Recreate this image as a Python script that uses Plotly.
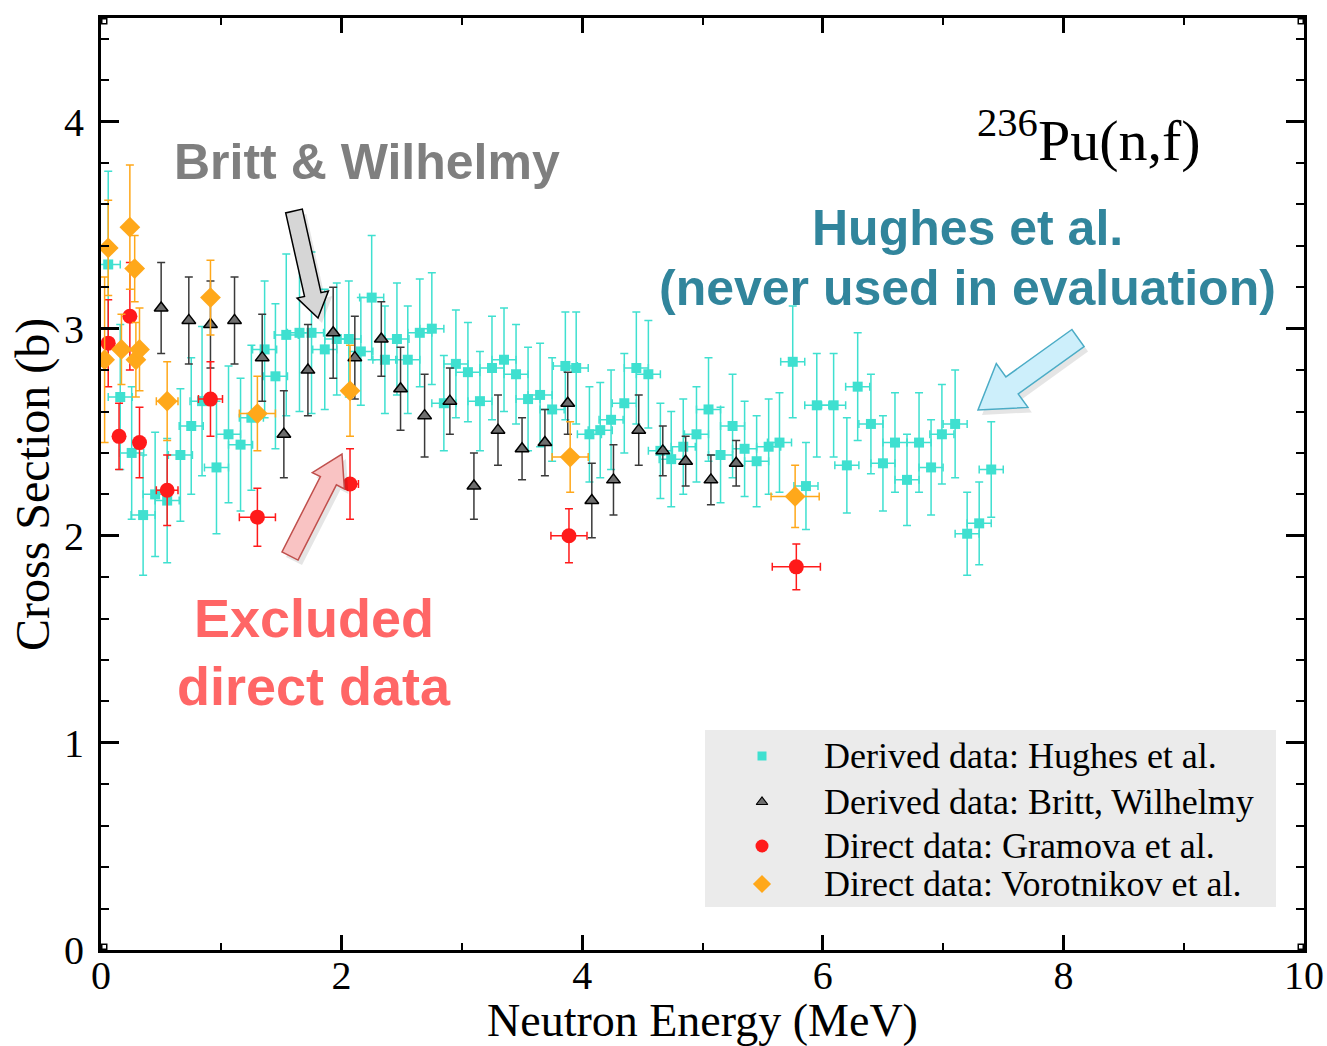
import math
import plotly.graph_objects as go

# ---------------- data ----------------
hughes_E = [0.06, 0.16, 0.255, 0.35, 0.45, 0.55, 0.66, 0.75, 0.84, 0.96, 1.06, 1.16, 1.25, 1.36,
            1.45, 1.54, 1.65, 1.75, 1.86, 1.96, 2.06, 2.16, 2.25, 2.36, 2.46, 2.55, 2.65, 2.75,
            2.85, 2.95, 3.05, 3.15, 3.25, 3.35, 3.45, 3.55, 3.65, 3.75, 3.86, 3.95, 4.06, 4.15,
            4.24, 4.35, 4.45, 4.55, 4.65, 4.74, 4.84, 4.95, 5.05, 5.15, 5.25, 5.35, 5.45, 5.55,
            5.64, 5.75, 5.86, 5.95, 6.09, 6.20, 6.29, 6.40, 6.50, 6.60, 6.70, 6.80, 6.90, 6.99,
            7.10, 7.20, 7.30, 7.40]
hughes_xs = [3.31, 2.67, 2.40, 2.10, 2.20, 2.17, 2.39, 2.53, 2.65, 2.33, 2.49, 2.44, 2.57, 2.90,
             2.77, 2.97, 2.98, 2.98, 2.90, 2.95, 2.95, 2.89, 3.15, 2.85, 2.95, 2.85, 2.98, 3.00,
             2.64, 2.83, 2.79, 2.65, 2.81, 2.85, 2.78, 2.66, 2.68, 2.61, 2.82, 2.81, 2.49, 2.51,
             2.56, 2.64, 2.81, 2.78, 2.41, 2.37, 2.43, 2.49, 2.61, 2.39, 2.53, 2.42, 2.36, 2.43,
             2.45, 2.84, 2.24, 2.63, 2.63, 2.34, 2.72, 2.54, 2.35, 2.45, 2.27, 2.45, 2.33, 2.49,
             2.54, 2.01, 2.06, 2.32]
hughes_err = [0.45, 0.35, 0.32, 0.29, 0.30, 0.30, 0.32, 0.33, 0.36, 0.32, 0.33, 0.32, 0.35, 0.33,
              0.35, 0.39, 0.38, 0.39, 0.29, 0.27, 0.28, 0.26, 0.30, 0.26, 0.27, 0.26, 0.26, 0.27,
              0.23, 0.26, 0.24, 0.24, 0.25, 0.25, 0.24, 0.25, 0.25, 0.25, 0.26, 0.27, 0.23, 0.23,
              0.24, 0.24, 0.27, 0.26, 0.23, 0.23, 0.23, 0.23, 0.25, 0.23, 0.25, 0.23, 0.22, 0.23,
              0.24, 0.27, 0.21, 0.25, 0.25, 0.23, 0.26, 0.24, 0.23, 0.24, 0.22, 0.24, 0.23, 0.24,
              0.26, 0.20, 0.20, 0.23]
hughes_dE = 0.1

britt_E = [0.50, 0.73, 0.91, 1.11, 1.34, 1.52, 1.72, 1.93, 2.11, 2.33, 2.49, 2.69, 2.90, 3.10,
           3.30, 3.50, 3.69, 3.88, 4.08, 4.26, 4.47, 4.67, 4.86, 5.07, 5.28]
britt_xs = [3.10, 3.04, 3.02, 3.04, 2.86, 2.49, 2.80, 2.98, 2.86, 2.95, 2.71, 2.58, 2.65, 2.24,
            2.51, 2.42, 2.45, 2.64, 2.17, 2.27, 2.51, 2.41, 2.36, 2.27, 2.35]
britt_err = [0.22, 0.21, 0.21, 0.21, 0.21, 0.21, 0.22, 0.22, 0.20, 0.18, 0.20, 0.20, 0.16, 0.16,
             0.17, 0.15, 0.16, 0.15, 0.18, 0.17, 0.17, 0.12, 0.12, 0.12, 0.11]

gramova_E = [0.06, 0.15, 0.24, 0.32, 0.55, 0.91, 1.30, 2.07, 3.89, 5.78]
gramova_xs = [2.93, 2.48, 3.06, 2.45, 2.22, 2.66, 2.09, 2.25, 2.00, 1.85]
gramova_err = [0.21, 0.16, 0.26, 0.17, 0.17, 0.18, 0.14, 0.17, 0.13, 0.11]
gramova_dE = [0.02, 0.02, 0.02, 0.02, 0.09, 0.10, 0.15, 0.07, 0.15, 0.20]

vorot_E = [0.03, 0.06, 0.17, 0.24, 0.28, 0.29, 0.32, 0.55, 0.91, 1.30, 2.07, 3.90, 5.77]
vorot_xs = [2.85, 3.39, 2.90, 3.49, 3.29, 2.85, 2.90, 2.65, 3.15, 2.59, 2.70, 2.38, 2.19]
vorot_err = [0.40, 0.23, 0.17, 0.30, 0.16, 0.18, 0.20, 0.19, 0.18, 0.18, 0.22, 0.17, 0.15]
vorot_dE = [0.02, 0.02, 0.02, 0.02, 0.02, 0.02, 0.02, 0.09, 0.02, 0.15, 0.02, 0.15, 0.20]

legend_labels = ["Derived data: Hughes et al.", "Derived data: Britt, Wilhelmy",
                 "Direct data: Gramova et al.", "Direct data: Vorotnikov et al."]

x_title = "Neutron Energy (MeV)"
y_title = "Cross Section (b)"

x_range = [0, 10]
y_range = [0, 4.5]

# ---------------- layout geometry (pixels) ----------------
W, H = 1327, 1046
L, R, T, B = 101, 1304, 18, 950

def px_to_paper(px, py):
    return (px - L) / (R - L), (B - py) / (B - T)

SERIF = "Liberation Serif, Times New Roman, serif"
SANS = "Liberation Sans, Arial, sans-serif"

CYAN = "#3fe0d0"
RED = "#ff1a1a"
ORANGE = "#ffa81a"

fig = go.Figure()

def err(vals, color, width=4):
    return dict(type="data", array=vals, visible=True, color=color, thickness=1.5, width=width)

fig.add_trace(go.Scatter(
    x=hughes_E, y=hughes_xs, mode="markers", name=legend_labels[0],
    marker=dict(symbol="square", size=10, color=CYAN, line=dict(width=0)),
    error_y=err(hughes_err, CYAN),
    error_x=dict(type="constant", value=hughes_dE, color=CYAN, thickness=1.5, width=4),
    showlegend=False))
fig.add_trace(go.Scatter(
    x=britt_E, y=britt_xs, mode="markers", name=legend_labels[1],
    marker=dict(symbol="triangle-up", size=12, color="#6e6e6e", line=dict(width=1.5, color="black")),
    error_y=err(britt_err, "#3a3a3a"),
    showlegend=False))
fig.add_trace(go.Scatter(
    x=gramova_E, y=gramova_xs, mode="markers", name=legend_labels[2],
    marker=dict(symbol="circle", size=15, color=RED, line=dict(width=0)),
    error_y=err(gramova_err, RED),
    error_x=err(gramova_dE, RED),
    showlegend=False))
fig.add_trace(go.Scatter(
    x=vorot_E, y=vorot_xs, mode="markers", name=legend_labels[3],
    marker=dict(symbol="diamond", size=16, color=ORANGE, line=dict(width=0)),
    error_y=err(vorot_err, ORANGE),
    error_x=err(vorot_dE, ORANGE),
    showlegend=False))

# ---------------- custom legend on pixel overlay axes ----------------
leg_y = [756, 802, 846, 884]
leg_sym = ["square", "triangle-up", "circle", "diamond"]
leg_col = [CYAN, "#6e6e6e", RED, ORANGE]
leg_size = [9, 10, 13, 14]
leg_line = [0, 1.2, 0, 0]
shapes = []
shapes.append(dict(type="rect", xref="x2", yref="y2", x0=705, x1=1276, y0=730, y1=907,
                   fillcolor="#ebebeb", line=dict(width=0), layer="below"))
for i in range(4):
    fig.add_trace(go.Scatter(x=[762], y=[leg_y[i]], xaxis="x2", yaxis="y2", mode="markers",
                             marker=dict(symbol=leg_sym[i], size=leg_size[i], color=leg_col[i],
                                         line=dict(width=leg_line[i], color="black")),
                             showlegend=False, hoverinfo="skip"))

annotations = []
for i in range(4):
    annotations.append(dict(xref="x2", yref="y2", x=822, y=leg_y[i], text=legend_labels[i],
                            showarrow=False, xanchor="left", yanchor="middle",
                            font=dict(family=SERIF, size=36, color="black")))

# ---------------- block arrows ----------------
def block_arrow(tail, tip, bw, hw, hl):
    dx, dy = tip[0] - tail[0], tip[1] - tail[1]
    ln = math.hypot(dx, dy)
    ux, uy = dx / ln, dy / ln
    nx, ny = -uy, ux
    bx, by = tip[0] - ux * hl, tip[1] - uy * hl
    pts = [(tail[0] + nx * bw / 2, tail[1] + ny * bw / 2),
           (bx + nx * bw / 2, by + ny * bw / 2),
           (bx + nx * hw / 2, by + ny * hw / 2),
           tip,
           (bx - nx * hw / 2, by - ny * hw / 2),
           (bx - nx * bw / 2, by - ny * bw / 2),
           (tail[0] - nx * bw / 2, tail[1] - ny * bw / 2)]
    return "M " + " L ".join(f"{p[0]:.1f},{p[1]:.1f}" for p in pts) + " Z"

arrows = [
    ((294, 211), (318, 318), 17, 32, 24, "#d6d6d6", "#000000"),
    ((290, 556), (342, 454), 18, 36, 30, "#f9c3c3", "#c0504d"),
    ((1078, 338), (978, 410), 21, 54, 42, "#cdeffb", "#4bacc6"),
]
for tail, tip, bw, hw, hl, fc, lc in arrows:
    sh = block_arrow((tail[0] + 4, tail[1] + 5), (tip[0] + 4, tip[1] + 5), bw, hw, hl)
    shapes.append(dict(type="path", xref="x2", yref="y2", path=sh,
                       fillcolor="rgba(0,0,0,0.10)", line=dict(width=0)))
    shapes.append(dict(type="path", xref="x2", yref="y2", path=block_arrow(tail, tip, bw, hw, hl),
                       fillcolor=fc, line=dict(width=1.5, color=lc)))

# corner squares
for cx, cy, sx, sy in [(L, T, 1, 1), (R, T, -1, 1), (L, B, 1, -1), (R, B, -1, -1)]:
    shapes.append(dict(type="rect", xref="x2", yref="y2", x0=cx - 6.5, x1=cx + 6.5,
                       y0=cy - 6.5, y1=cy + 6.5, fillcolor="black", line=dict(width=0)))
    shapes.append(dict(type="rect", xref="x2", yref="y2", x0=cx + sx * 1.5, x1=cx + sx * 5,
                       y0=cy + sy * 1.5, y1=cy + sy * 5, fillcolor="white", line=dict(width=0)))

# ---------------- text annotations ----------------
xt_x, xt_y = px_to_paper(702, 1020)
yt_x, yt_y = px_to_paper(33, 485)
annotations += [
    dict(xref="x2", yref="y2", x=367, y=162, text="<b>Britt &amp; Wilhelmy</b>", showarrow=False,
         font=dict(family=SANS, size=50, color="#7f7f7f")),
    dict(xref="x2", yref="y2", x=967, y=228, text="<b>Hughes et al.</b>", showarrow=False,
         font=dict(family=SANS, size=50, color="#31859c")),
    dict(xref="x2", yref="y2", x=967, y=288, text="<b>(never used in evaluation)</b>", showarrow=False,
         font=dict(family=SANS, size=50, color="#31859c")),
    dict(xref="x2", yref="y2", x=314, y=618, text="<b>Excluded</b>", showarrow=False,
         font=dict(family=SANS, size=54, color="#ff6666")),
    dict(xref="x2", yref="y2", x=314, y=686, text="<b>direct data</b>", showarrow=False,
         font=dict(family=SANS, size=54, color="#ff6666")),
    dict(xref="x2", yref="y2", x=975, y=136, text="<sup>236</sup>Pu(n,f)", showarrow=False,
         xanchor="left", yanchor="middle",
         font=dict(family=SERIF, size=58, color="black")),
    # axis titles
    dict(xref="paper", yref="paper", x=xt_x, y=xt_y, text=x_title, showarrow=False,
         xanchor="center", yanchor="middle",
         font=dict(family=SERIF, size=46, color="black")),
    dict(xref="paper", yref="paper", x=yt_x, y=yt_y, text=y_title, showarrow=False,
         xanchor="center", yanchor="middle", textangle=-90,
         font=dict(family=SERIF, size=48, color="black")),
]

axis_common = dict(showgrid=False, zeroline=False, showline=True, linewidth=3, linecolor="black",
                   mirror="ticks", ticks="inside", tickwidth=3, tickcolor="black",
                   tickfont=dict(family=SERIF, size=40, color="black"))

fig.update_layout(
    width=W, height=H,
    margin=dict(l=L, r=W - R, t=T, b=H - B, autoexpand=False),
    paper_bgcolor="white", plot_bgcolor="white",
    showlegend=False,
    xaxis=dict(range=x_range, dtick=2, tick0=0, ticklen=15, ticklabelstandoff=-12,
               minor=dict(dtick=1, ticks="inside", ticklen=7, tickwidth=2, tickcolor="black"),
               **axis_common),
    yaxis=dict(range=y_range, dtick=1, tick0=0, ticklen=18, ticklabelstandoff=6,
               minor=dict(dtick=0.2, ticks="inside", ticklen=8, tickwidth=2, tickcolor="black"),
               **axis_common),
    xaxis2=dict(range=[L, R], overlaying="x", visible=False, anchor="y2", fixedrange=True),
    yaxis2=dict(range=[B, T], overlaying="y", visible=False, anchor="x2", fixedrange=True),
    shapes=shapes,
    annotations=annotations,
)

fig.write_html("out.html")
